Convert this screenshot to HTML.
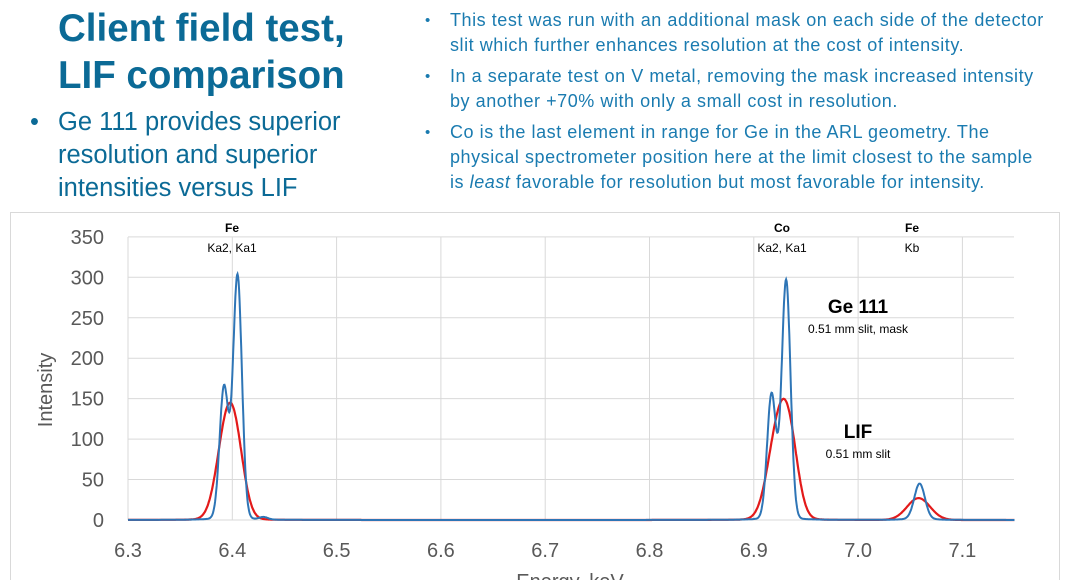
<!DOCTYPE html>
<html><head><meta charset="utf-8"><style>
body{margin:0;width:1068px;height:580px;overflow:hidden;background:#fff;font-family:"Liberation Sans",sans-serif;position:relative}
.t{position:absolute;left:58px;top:5px;color:#0b6a96;font-weight:bold;font-size:38.5px;line-height:47px}
.lb{position:absolute;left:30px;top:106px;color:#0b6a96;font-size:25.5px;line-height:33px}
.lb span{position:absolute;left:0}
.lb div{margin-left:28px;width:300px}
.rb{position:absolute;left:425px;top:8px;color:#1a7bb0;font-size:18px;letter-spacing:0.55px;line-height:25px;width:640px}
.rb p{margin:0 0 6px 25px;position:relative}
.rb p:before{content:"•";position:absolute;left:-25px;font-size:15px}
</style></head><body>
<div class="t">Client field test,<br>LIF comparison</div>
<div class="lb"><span>•</span><div>Ge 111 provides superior resolution and superior intensities versus LIF</div></div>
<div class="rb">
<p>This test was run with an additional mask on each side of the detector<br>slit which further enhances resolution at the cost of intensity.</p>
<p>In a separate test on V metal, removing the mask increased intensity<br>by another +70% with only a small cost in resolution.</p>
<p>Co is the last element in range for Ge in the ARL geometry. The<br>physical spectrometer position here at the limit closest to the sample<br>is <i>least</i> favorable for resolution but most favorable for intensity.</p>
</div>
<svg id="s" width="1068" height="580" style="position:absolute;left:0;top:0" font-family="Liberation Sans, sans-serif">
<rect x="10.5" y="212.5" width="1049" height="380" fill="none" stroke="#d9d9d9"/>
<g id="g"></g>
<path id="red" fill="none" stroke="#e31a1a" stroke-width="2.2"/>
<path id="blue" fill="none" stroke="#2e75b6" stroke-width="2"/>
<g font-family="Liberation Sans, DejaVu Sans, sans-serif" text-anchor="middle" fill="#000">
<text x="232" y="232" font-size="12" font-weight="bold">Fe</text>
<text x="232" y="252" font-size="12">Ka2, Ka1</text>
<text x="782" y="232" font-size="12" font-weight="bold">Co</text>
<text x="782" y="252" font-size="12">Ka2, Ka1</text>
<text x="912" y="232" font-size="12" font-weight="bold">Fe</text>
<text x="912" y="252" font-size="12">Kb</text>
<text x="858" y="313" font-size="19" font-weight="bold">Ge 111</text>
<text x="858" y="333" font-size="12">0.51 mm slit, mask</text>
<text x="858" y="438" font-size="19" font-weight="bold">LIF</text>
<text x="858" y="458" font-size="12">0.51 mm slit</text>
</g>
<g id="lab" fill="#595959" font-size="20"></g>
<text transform="translate(52,390) rotate(-90)" text-anchor="middle" font-size="20" fill="#595959">Intensity</text>
<text x="570" y="588" text-anchor="middle" font-size="20" fill="#595959">Energy, keV</text>
</svg>
<script>
var X0=128,XS=1043,Y0=520,YS=0.809;
function px(e){return X0+(e-6.3)*XS}function py(v){return Y0-v*YS}
var g='',l='';
for(var i=0;i<=7;i++){var y=py(i*50);g+='<line x1="128" x2="1014" y1="'+y+'" y2="'+y+'" stroke="#d9d9d9"/>';l+='<text x="104" y="'+(y+7)+'" text-anchor="end">'+(i*50)+'</text>';}
for(var i=0;i<=8;i++){var x=px(6.3+i*0.1);g+='<line x1="'+x+'" x2="'+x+'" y1="237" y2="520" stroke="#d9d9d9"/>';l+='<text x="'+x+'" y="557" text-anchor="middle">'+(6.3+i*0.1).toFixed(1)+'</text>';}
document.getElementById('g').innerHTML=g;document.getElementById('lab').innerHTML=l;
function G(e,c,a,s){var d=(e-c)/s;return a*Math.exp(-d*d/2)}
function L(e,c,a,s){var d=(e-c)/s;return a/(1+d*d)}
function blue(e){return G(e,6.392,160,0.0042)+G(e,6.405,298,0.0042)+L(e,6.399,6,0.012)+G(e,6.43,3,0.004)+
G(e,6.917,152,0.0042)+G(e,6.931,292,0.0042)+L(e,6.925,6,0.012)+G(e,7.059,42,0.005)+L(e,7.058,3,0.01)}
function red(e){return G(e,6.393,88,0.009)+G(e,6.403,78,0.0085)+L(e,6.398,4,0.015)+
G(e,6.922,94,0.0095)+G(e,6.934,88,0.0085)+L(e,6.928,4,0.015)+G(e,7.058,27,0.011)}
function path(f){var d='';for(var e=6.3;e<=7.15;e+=0.0005){d+=(d?'L':'M')+px(e).toFixed(1)+','+py(f(e)).toFixed(1)}return d}
document.getElementById('blue').setAttribute('d',path(blue));
document.getElementById('red').setAttribute('d',path(red));
</script>
</body></html>
